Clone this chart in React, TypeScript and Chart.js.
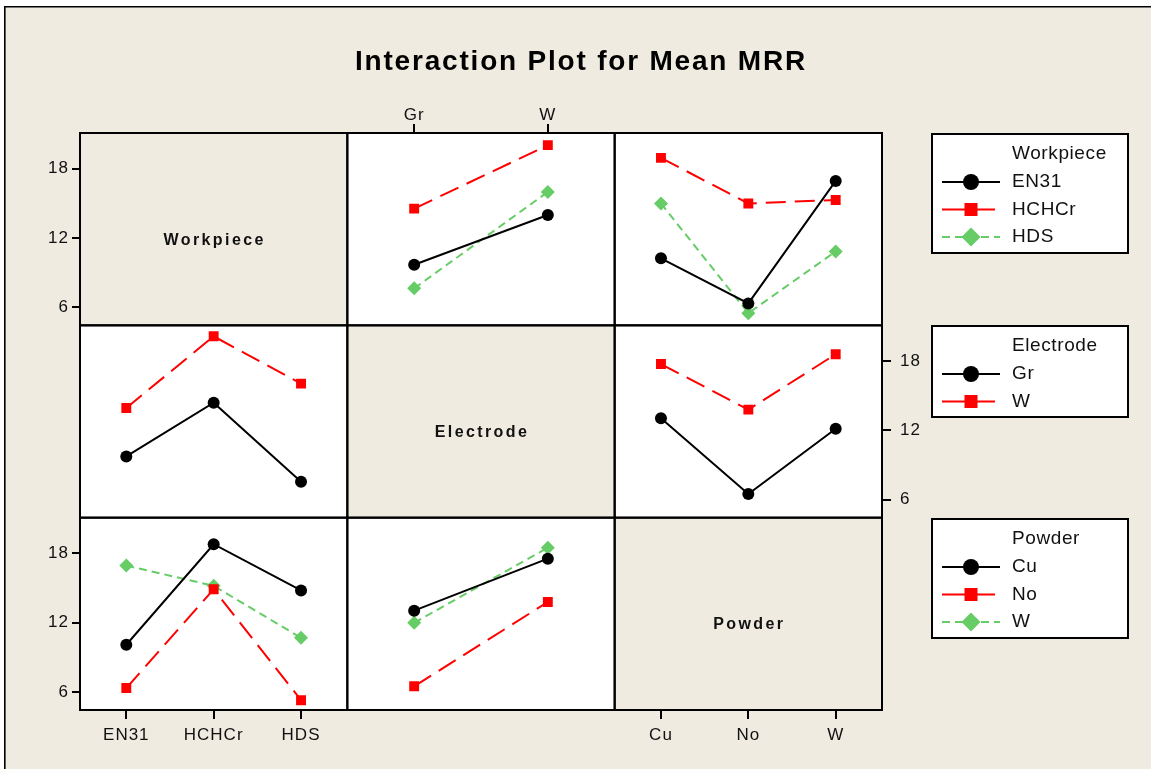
import React, { useEffect, useRef } from 'react';
import { Chart, registerables } from 'chart.js';

Chart.register(...registerables);

// ---- Data ----
const chartTitle = 'Interaction Plot for Mean MRR';
const factorNames = ['Workpiece', 'Electrode', 'Powder'];
const workpieceLevels = ['EN31', 'HCHCr', 'HDS'];
const electrodeLevels = ['Gr', 'W'];
const powderLevels = ['Cu', 'No', 'W'];
const yTickValues = [6, 12, 18];

// Row 1: Workpiece traces
const workpieceByElectrode = [
  [9.7, 14.0],
  [14.55, 20.05],
  [7.65, 16.0],
];
const workpieceByPowder = [
  [10.25, 6.35, 16.95],
  [18.95, 15.0, 15.3],
  [15.0, 5.5, 10.85],
];
// Row 2: Electrode traces
const electrodeByWorkpiece = [
  [9.75, 14.4, 7.55],
  [13.95, 20.15, 16.05],
];
const electrodeByPowder = [
  [13.05, 6.5, 12.15],
  [17.75, 13.8, 18.6],
];
// Row 3: Powder traces
const powderByWorkpiece = [
  [10.1, 18.8, 14.8],
  [6.35, 14.9, 5.3],
  [16.95, 15.2, 10.7],
];
const powderByElectrode = [
  [13.05, 17.55],
  [6.5, 13.8],
  [12.0, 18.5],
];

// ---- Styles ----
const FONT = "'Liberation Sans', Arial, Helvetica, sans-serif";
const BEIGE = '#EFEBE0';
const TEXT = '#111111';
const traceColors = ['#000000', '#FF0000', '#66CC66'];
const traceDash = [[], [20, 9], [8, 5]];
const traceMarker = ['circle', 'rect', 'rectRot'];
const traceRadius = [6, 7, 7];

const xIds = ['x1', 'x2', 'x3'];
const yIds = ['y1', 'y2', 'y3'];
const levelSets = [workpieceLevels, electrodeLevels, powderLevels];

function makeSet(levelName: string, ti: number, values: number[], xId: string, yId: string) {
  return {
    label: levelName,
    data: values.map((v, i) => ({ x: i + 1, y: v })),
    xAxisID: xId,
    yAxisID: yId,
    borderColor: traceColors[ti],
    backgroundColor: traceColors[ti],
    borderWidth: 2,
    borderDash: traceDash[ti],
    pointStyle: traceMarker[ti],
    pointRadius: traceRadius[ti],
    pointBorderWidth: 0,
    pointBackgroundColor: traceColors[ti],
    tension: 0,
    fill: false,
  };
}

function panelSets(traceLevels: string[], table: number[][], col: number, row: number) {
  return table.map((vals, ti) => makeSet(traceLevels[ti], ti, vals, xIds[col], yIds[row]));
}

const datasets = [
  ...panelSets(workpieceLevels, workpieceByElectrode, 1, 0),
  ...panelSets(workpieceLevels, workpieceByPowder, 2, 0),
  ...panelSets(electrodeLevels, electrodeByWorkpiece, 0, 1),
  ...panelSets(electrodeLevels, electrodeByPowder, 2, 1),
  ...panelSets(powderLevels, powderByWorkpiece, 0, 2),
  ...panelSets(powderLevels, powderByElectrode, 1, 2),
];

function catAxis(levels: string[], min: number, max: number, position: string, stack: string, weight: number, size: number) {
  return {
    type: 'linear',
    position,
    stack,
    stackWeight: 1,
    weight,
    min,
    max,
    afterBuildTicks: (s: any) => {
      s.ticks = levels.map((_, i) => ({ value: i + 1 }));
    },
    afterFit: (s: any) => {
      s.height = size;
    },
    ticks: {
      callback: (v: any) => levels[Math.round(Number(v)) - 1] ?? '',
      autoSkip: false,
      maxRotation: 0,
      font: { size: 17, family: FONT },
      color: TEXT,
      padding: position === 'top' ? -2 : 6,
    },
    grid: { display: true, drawOnChartArea: false, drawTicks: true, tickLength: 9, color: '#000', lineWidth: 2 },
    border: { display: false },
  };
}

function valAxis(position: string, stack: string, weight: number, size: number) {
  return {
    type: 'linear',
    position,
    stack,
    stackWeight: 1,
    weight,
    min: 4.45,
    max: 21.1,
    afterBuildTicks: (s: any) => {
      s.ticks = yTickValues.map((v) => ({ value: v }));
    },
    afterFit: (s: any) => {
      s.width = size;
    },
    ticks: {
      font: { size: 17, family: FONT },
      color: TEXT,
      padding: position === 'left' ? 3 : 9,
    },
    grid: { display: true, drawOnChartArea: false, drawTicks: true, tickLength: position === 'left' ? 8 : 9, color: '#000', lineWidth: 2 },
    border: { display: false },
  };
}

function dummyAxis(position: string, stack: string, weight: number, size: number, horizontal: boolean) {
  return {
    type: 'linear',
    position,
    stack,
    stackWeight: 1,
    weight,
    display: true,
    ticks: { display: false },
    grid: { display: false },
    border: { display: false },
    afterFit: (s: any) => {
      if (horizontal) s.height = size;
      else s.width = size;
    },
  };
}

const panelPlugin = {
  id: 'panels',
  beforeDraw(chart: any) {
    const { ctx, width, height } = chart;
    ctx.save();
    ctx.fillStyle = '#ffffff';
    ctx.fillRect(0, 0, width, height);
    ctx.fillStyle = BEIGE;
    ctx.fillRect(4.5, 6.5, width - 4.5, height - 6.5);
    ctx.strokeStyle = '#000';
    ctx.lineWidth = 1.6;
    ctx.beginPath();
    ctx.moveTo(4.8, height);
    ctx.lineTo(4.8, 6.8);
    ctx.lineTo(width, 6.8);
    ctx.stroke();

    // title
    ctx.fillStyle = '#000';
    ctx.font = `bold 28px ${FONT}`;
    (ctx as any).letterSpacing = '1.8px';
    ctx.textAlign = 'center';
    ctx.textBaseline = 'middle';
    ctx.fillText(chartTitle, 581, 62);

    for (let r = 0; r < 3; r++) {
      for (let c = 0; c < 3; c++) {
        const xs = chart.scales[xIds[c]];
        const ys = chart.scales[yIds[r]];
        ctx.fillStyle = r === c ? BEIGE : '#ffffff';
        ctx.fillRect(xs.left, ys.top, xs.right - xs.left, ys.bottom - ys.top);
        if (r === c) {
          ctx.fillStyle = TEXT;
          ctx.font = `bold 16px ${FONT}`;
          (ctx as any).letterSpacing = '2.4px';
          ctx.textAlign = 'center';
          ctx.textBaseline = 'middle';
          ctx.fillText(factorNames[r], (xs.left + xs.right) / 2 + 1, (ys.top + ys.bottom) / 2 + 11);
        }
      }
    }
    ctx.restore();
    // slight letter spacing for the axis tick labels drawn next by Chart.js
    (ctx as any).letterSpacing = '1px';
  },
  afterDatasetsDraw(chart: any) {
    const { ctx } = chart;
    ctx.save();
    ctx.strokeStyle = '#000';
    ctx.lineWidth = 2;
    for (let r = 0; r < 3; r++) {
      for (let c = 0; c < 3; c++) {
        const xs = chart.scales[xIds[c]];
        const ys = chart.scales[yIds[r]];
        ctx.strokeRect(xs.left, ys.top, xs.right - xs.left, ys.bottom - ys.top);
      }
    }
    ctx.restore();
  },
  afterDraw(chart: any) {
    const { ctx } = chart;
    ctx.save();
    (ctx as any).letterSpacing = '0.6px';
    for (let r = 0; r < 3; r++) {
      const ys = chart.scales[yIds[r]];
      const levels = levelSets[r];
      const top = Math.round(ys.top) + 1;
      const left = 932;
      const right = 1128;
      const h = 35 + 28 * levels.length;
      ctx.fillStyle = '#ffffff';
      ctx.fillRect(left, top, right - left, h);
      ctx.strokeStyle = '#000';
      ctx.lineWidth = 2;
      ctx.setLineDash([]);
      ctx.strokeRect(left, top, right - left, h);
      ctx.fillStyle = TEXT;
      ctx.font = `19px ${FONT}`;
      ctx.textAlign = 'left';
      ctx.textBaseline = 'middle';
      ctx.fillText(factorNames[r], 1012, top + 20);
      levels.forEach((lv, i) => {
        const y = top + 48 + i * 27.5;
        ctx.strokeStyle = traceColors[i];
        ctx.lineWidth = 2;
        ctx.setLineDash(i === 1 ? [] : traceDash[i]);
        ctx.beginPath();
        ctx.moveTo(942, y);
        ctx.lineTo(i === 1 ? 995 : 1000, y);
        ctx.stroke();
        ctx.setLineDash([]);
        ctx.fillStyle = traceColors[i];
        const mx = 971;
        ctx.beginPath();
        if (i === 0) {
          ctx.arc(mx, y, 8, 0, Math.PI * 2);
        } else if (i === 1) {
          ctx.rect(mx - 6.5, y - 6.5, 13, 13);
        } else {
          ctx.moveTo(mx, y - 9.5);
          ctx.lineTo(mx + 9.5, y);
          ctx.lineTo(mx, y + 9.5);
          ctx.lineTo(mx - 9.5, y);
          ctx.closePath();
        }
        ctx.fill();
        ctx.fillStyle = TEXT;
        ctx.fillText(lv, 1012, y);
      });
    }
    ctx.restore();
  },
};

export default function App() {
  const canvasRef = useRef<HTMLCanvasElement | null>(null);

  useEffect(() => {
    const canvas = canvasRef.current;
    if (!canvas) return;
    Chart.defaults.font.family = FONT;
    const chart = new Chart(canvas, {
      type: 'line',
      data: { datasets: datasets as any },
      options: {
        responsive: false,
        animation: false,
        devicePixelRatio: 1,
        events: [],
        layout: { padding: { left: 9, right: 0, top: 89, bottom: 0 } },
        plugins: {
          legend: { display: false },
          tooltip: { enabled: false },
          title: { display: false },
        },
        scales: {
          // bottom x axes (ascending weight = left to right)
          x1: catAxis(workpieceLevels, 0.47, 3.53, 'bottom', 'xb', 1, 59),
          x2b: dummyAxis('bottom', 'xb', 2, 59, true),
          x3: catAxis(powderLevels, 0.47, 3.53, 'bottom', 'xb', 3, 59),
          // top x axes (descending weight = left to right)
          x1t: dummyAxis('top', 'xt', 3, 44, true),
          x2: catAxis(electrodeLevels, 0.5, 2.5, 'top', 'xt', 2, 44),
          x3t: dummyAxis('top', 'xt', 1, 44, true),
          // left y axes (descending weight = top to bottom)
          y1: valAxis('left', 'yl', 3, 71),
          y2l: dummyAxis('left', 'yl', 2, 71, false),
          y3: valAxis('left', 'yl', 1, 71),
          // right y axes (ascending weight = top to bottom)
          y1r: dummyAxis('right', 'yr', 1, 269, false),
          y2: valAxis('right', 'yr', 2, 269),
          y3r: dummyAxis('right', 'yr', 3, 269, false),
        } as any,
      },
      plugins: [panelPlugin as any],
    });
    return () => chart.destroy();
  }, []);

  return (
    <div style={{ position: 'absolute', left: 0, top: 0, width: 1151, height: 769 }}>
      <canvas ref={canvasRef} width={1151} height={769} style={{ width: 1151, height: 769, display: 'block' }} />
    </div>
  );
}
